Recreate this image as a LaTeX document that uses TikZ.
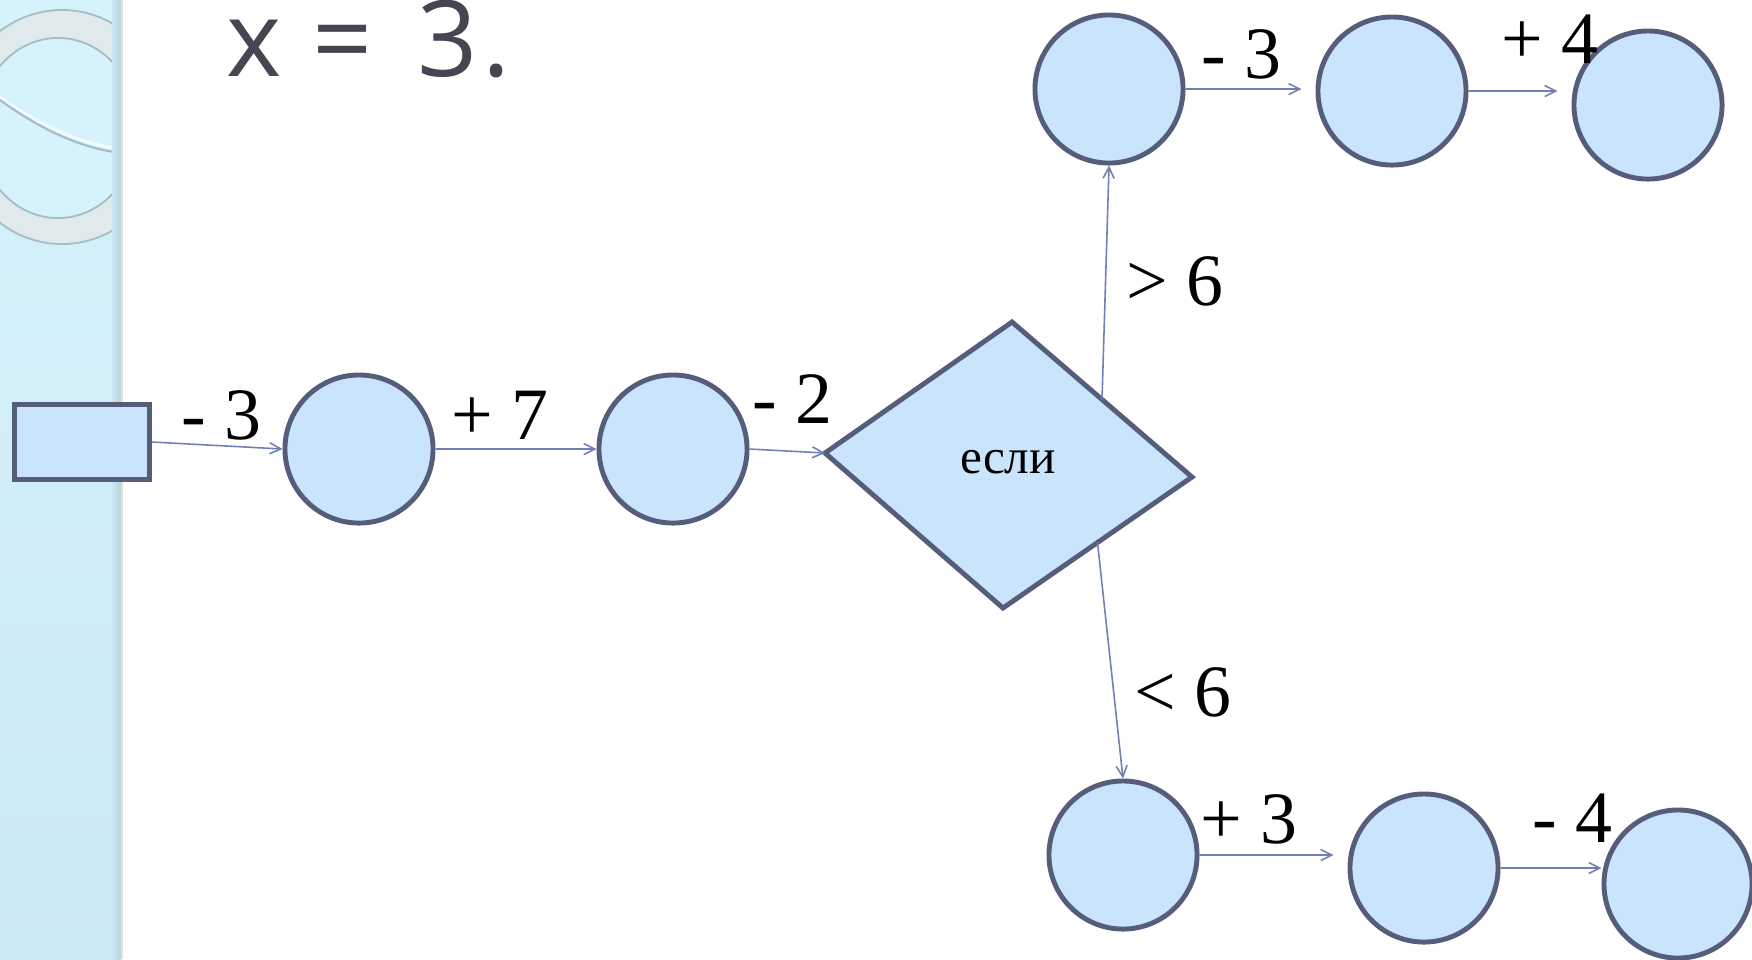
\documentclass[tikz,border=0pt]{standalone}
\usepackage{fontspec}
\setmainfont{Liberation Serif}
\newfontfamily\titlefont{Open Sans}
\usetikzlibrary{shapes.geometric,arrows.meta,positioning,calc}

\definecolor{nodefill}{RGB}{201,228,251}
\definecolor{nodeline}{RGB}{85,93,122}
\definecolor{linkcol}{RGB}{113,128,180}
\definecolor{striptop}{RGB}{214,243,252}
\definecolor{stripbot}{RGB}{203,233,243}
\definecolor{stripedge}{RGB}{184,212,220}
\definecolor{ringfill}{RGB}{224,233,236}
\definecolor{ringline}{RGB}{165,188,195}
\definecolor{titlecol}{RGB}{70,70,82}

\begin{document}
\begin{tikzpicture}[
    x=0.01cm, y=-0.01cm,
    state/.style={circle, draw=nodeline, fill=nodefill, line width=1.4pt, minimum size=1.48cm, inner sep=0pt},
    start/.style={rectangle, draw=nodeline, fill=nodefill, line width=1.4pt, minimum width=1.35cm, minimum height=0.75cm, inner sep=0pt},
    cond/.style={draw=nodeline, fill=nodefill, line width=1.4pt, line join=miter},
    op/.style={font=\fontsize{21}{24}\selectfont, inner sep=0pt},
    arrow/.style={-{Straight Barb[length=1.1mm, width=1.1mm]}, line width=0.45pt, draw=linkcol}
]
    \useasboundingbox (0,0) rectangle (1752,959);
    \fill[white] (0,0) rectangle (1752,959);

    % Side strip
    \shade[top color=striptop, bottom color=stripbot] (0,0) rectangle (121,959);
    \begin{scope}
        \clip (0,0) rectangle (115,959);
        \filldraw[fill=ringfill, draw=ringline, line width=0.5pt] (62,127) ellipse [x radius=1.08cm, y radius=1.17cm];
        \filldraw[fill=striptop, draw=ringline, line width=0.5pt] (58,128) ellipse [x radius=0.8cm, y radius=0.9cm];
        \draw[white, opacity=0.7, line width=0.8pt] (0,97) .. controls (40,125) and (80,144) .. (121,149);
        \draw[ringline, line width=0.6pt] (0,100) .. controls (40,129) and (80,148) .. (121,153);
    \end{scope}
    \shade[left color=stripbot, right color=stripedge] (112,0) rectangle (121,959);
    \fill[black!12] (121,0) rectangle (123,959);

    % Title
    \node[font=\titlefont\fontsize{30}{36}\selectfont, text=titlecol, anchor=base west, inner sep=0pt] (title) at (226,76) {x\hspace{0.03cm} =\hspace{0.45cm}3\hspace{0.04cm}.};

    % Nodes
    \node[start] (in) at (82,442) {};
    \node[state] (a1) at (359,449) {};
    \node[state] (a2) at (673,449) {};

    \coordinate (dL) at (825,453);
    \coordinate (dT) at (1012,322);
    \coordinate (dR) at (1192,477);
    \coordinate (dB) at (1003,608);
    \draw[cond] (dL) -- (dT) -- (dR) -- (dB) -- cycle;
    \node[font=\fontsize{14}{16}\selectfont, inner sep=0pt] (if) at (1008,462) {если};

    \node[state] (t1) at (1109,89) {};
    \node[state] (t2) at (1392,91) {};
    \node[state] (t3) at (1648,105) {};

    \node[state] (b1) at (1123,855) {};
    \node[state] (b2) at (1424,868) {};
    \node[state] (b3) at (1678,884) {};

    % Links
    \draw[arrow] (in.east) -- (a1.west);
    \draw[arrow] (a1.east) -- (a2.west);
    \draw[arrow] (a2.east) -- (dL);
    \draw[arrow] ($(dT)!0.5!(dR)$) -- (t1.south);
    \draw[arrow] ($(dR)!0.5!(dB)$) -- (b1.north);
    \draw[arrow, shorten >=0.14cm] (t1.east) -- (t1.east -| t2.west);
    \draw[arrow, shorten >=0.14cm] (t2.east) -- (t2.east -| t3.west);
    \draw[arrow, shorten >=0.14cm] (b1.east) -- (b1.east -| b2.west);
    \draw[arrow] (b2.east) -- (b2.east -| b3.west);

    % Labels
    \node[op] (l1) at (221,415) {- 3};
    \node[op] (l2) at (500,415) {+ 7};
    \node[op] (l3) at (792,399) {- 2};
    \node[op] (l4) at (1175,281) {> 6};
    \node[op] (l5) at (1183,692) {< 6};
    \node[op] (l6) at (1241,54) {- 3};
    \node[op] (l7) at (1550,39) {+ 4};
    \node[op] (l8) at (1249,819) {+ 3};
    \node[op] (l9) at (1572,818) {- 4};
\end{tikzpicture}
\end{document}
